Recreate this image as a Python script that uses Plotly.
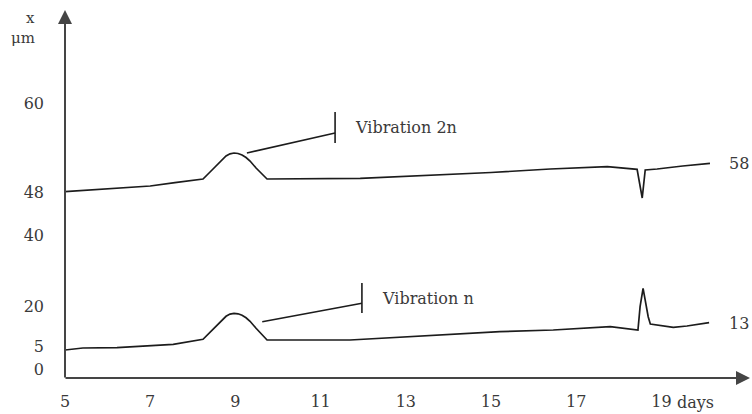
import plotly.graph_objects as go

# ---- data (days on x, schematic displacement height on y) ----
days_2n = [5.0, 5.6, 6.3, 7.0, 7.58, 8.24, 8.405, 8.569, 8.686, 8.780, 8.874, 8.968, 9.062,
           9.156, 9.250, 9.344, 9.485, 9.626, 9.743,
           11.93, 13.5, 15.0, 16.39, 17.73, 18.43, 18.55, 18.62, 18.90, 19.5, 20.14]
disp_2n = [186.3, 188, 190, 192, 195.3, 199, 206, 213, 218.5, 222, 224.2, 225, 224.5,
           223, 220.5, 217, 210, 203.5, 199,
           199.7, 202.5, 205.5, 209, 211.3, 208.7, 180, 208, 209, 212, 214.7]

days_n = [5.0, 5.42, 6.22, 7.54, 8.24, 8.405, 8.569, 8.686, 8.780, 8.874, 8.968, 9.062,
          9.156, 9.250, 9.344, 9.485, 9.626, 9.743,
          11.69, 15.21, 16.46, 17.80, 18.45, 18.50, 18.57, 18.69, 18.74, 19.28, 19.60, 20.12]
disp_n = [28, 30, 30.3, 33.7, 38.7, 45.7, 52.7, 58.2, 61.7, 63.9, 64.7, 64.2,
          62.7, 60.2, 56.7, 49.7, 43.2, 38,
          38, 46.3, 48, 51.3, 48, 71.3, 89.7, 61.3, 54, 50.7, 52, 55.3]

x_tick_vals = [5, 7, 9, 11, 13, 15, 17, 19]
x_tick_text = ["5", "7", "9", "11", "13", "15", "17", "19"]
y_tick_text = ["0", "5", "20", "40", "48", "60"]
y_tick_pos = [9, 32, 72, 143, 186, 275]

end_labels = ["58", "13"]
series_names = ["Vibration 2n", "Vibration n"]

LINE = "#1c1c1c"
AXIS = "#454545"
TXT = "#3a3a3a"
FONT = "DejaVu Serif"
FS = 16

fig = go.Figure()
fig.add_trace(go.Scatter(x=days_2n, y=disp_2n, mode="lines",
                         line=dict(color=LINE, width=1.7), name=series_names[0]))
fig.add_trace(go.Scatter(x=days_n, y=disp_n, mode="lines",
                         line=dict(color=LINE, width=1.7), name=series_names[1]))

# leader lines with end ticks
leaders = [
    dict(x0=9.27, y0=225, x1=11.34, y1=245, ty0=235, ty1=266, tx=11.76, tyc=251, text=series_names[0]),
    dict(x0=9.63, y0=56.3, x1=11.97, y1=74.7, ty0=65, ty1=95, tx=12.40, tyc=80, text=series_names[1]),
]
shapes = []
annotations = []
for ld in leaders:
    shapes.append(dict(type="line", xref="x", yref="y", x0=ld["x0"], y0=ld["y0"],
                       x1=ld["x1"], y1=ld["y1"], line=dict(color=LINE, width=1.6)))
    shapes.append(dict(type="line", xref="x", yref="y", x0=ld["x1"], y0=ld["ty0"],
                       x1=ld["x1"], y1=ld["ty1"], line=dict(color=LINE, width=1.6)))
    annotations.append(dict(x=ld["tx"], y=ld["tyc"], xref="x", yref="y", text=ld["text"],
                            showarrow=False, xanchor="left", yanchor="middle",
                            font=dict(family=FONT, size=FS, color=TXT)))

# end value labels
annotations.append(dict(x=20.54, y=215, xref="x", yref="y", text=end_labels[0], showarrow=False,
                        xanchor="left", yanchor="middle", font=dict(family=FONT, size=FS, color=TXT)))
annotations.append(dict(x=20.54, y=55, xref="x", yref="y", text=end_labels[1], showarrow=False,
                        xanchor="left", yanchor="middle", font=dict(family=FONT, size=FS, color=TXT)))

# "days" after 19
annotations.append(dict(x=19, y=0, xref="x", yref="paper", text="days", showarrow=False,
                        xanchor="left", yanchor="middle", xshift=14, yshift=-24,
                        font=dict(family=FONT, size=FS, color=TXT)))

# y-axis unit
annotations.append(dict(x=0, y=1, xref="paper", yref="paper", text="x", showarrow=False,
                        xanchor="center", yanchor="middle", xshift=-35, yshift=-8,
                        font=dict(family=FONT, size=15, color=TXT)))
annotations.append(dict(x=0, y=1, xref="paper", yref="paper", text="μm", showarrow=False,
                        xanchor="center", yanchor="middle", xshift=-42, yshift=-28,
                        font=dict(family=FONT, size=15, color=TXT)))

# axes with arrowheads
annotations.append(dict(x=1, y=0, xref="paper", yref="paper", ax=-686, ay=0,
                        axref="pixel", ayref="pixel", text="", showarrow=True,
                        arrowhead=2, arrowsize=1.4, arrowwidth=2, arrowcolor=AXIS, standoff=0))
annotations.append(dict(x=0, y=1, xref="paper", yref="paper", ax=0, ay=369,
                        axref="pixel", ayref="pixel", text="", showarrow=True,
                        arrowhead=2, arrowsize=1.4, arrowwidth=2, arrowcolor=AXIS, standoff=0))

fig.update_layout(
    width=752, height=414,
    margin=dict(l=65, r=2, t=10, b=36),
    paper_bgcolor="white", plot_bgcolor="white",
    showlegend=False,
    shapes=shapes, annotations=annotations,
    xaxis=dict(range=[5, 21.08], showgrid=False, zeroline=False, showline=False,
               tickmode="array", tickvals=x_tick_vals, ticktext=x_tick_text, ticks="",
               ticklabelstandoff=12,
               tickfont=dict(family=FONT, size=FS, color=TXT)),
    yaxis=dict(range=[0, 368], showgrid=False, zeroline=False, showline=False,
               tickmode="array", tickvals=y_tick_pos, ticktext=y_tick_text, ticks="",
               ticklabelstandoff=20,
               tickfont=dict(family=FONT, size=FS, color=TXT)),
)

fig.write_html("out.html", post_script="document.body.style.margin='0px';",
               config={"displayModeBar": False})
